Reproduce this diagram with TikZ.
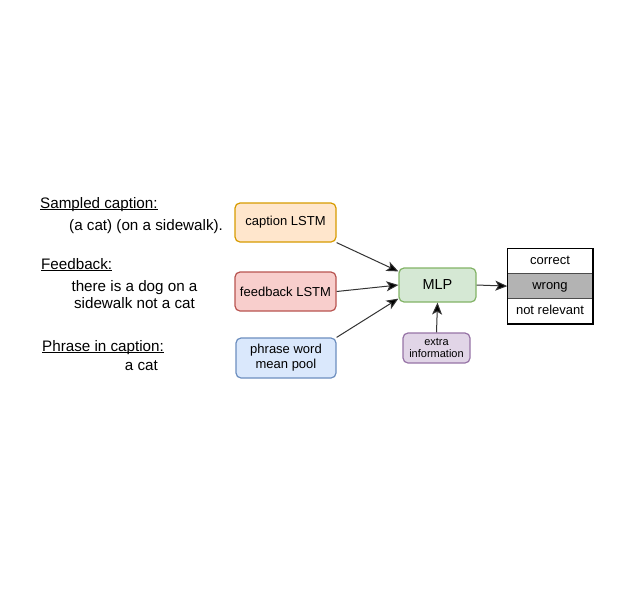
\documentclass[tikz,border=0pt]{standalone}
\usepackage{fontspec}
\setmainfont{Liberation Sans}
\usetikzlibrary{positioning}
\usetikzlibrary{arrows.meta}
\definecolor{capfill}{HTML}{FFE6CC}
\definecolor{capline}{HTML}{D79B00}
\definecolor{fbfill}{HTML}{F8CECC}
\definecolor{fbline}{HTML}{B85450}
\definecolor{phrfill}{HTML}{DAE8FC}
\definecolor{phrline}{HTML}{6C8EBF}
\definecolor{mlpfill}{HTML}{D5E8D4}
\definecolor{mlpline}{HTML}{82B366}
\definecolor{extfill}{HTML}{E1D5E7}
\definecolor{extline}{HTML}{9673A6}
\definecolor{wrongfill}{HTML}{B3B3B3}
\newcommand{\uln}[1]{\setbox0\hbox{#1}\leavevmode\rlap{\raisebox{-2.2pt}{\rule{\wd0}{1.1pt}}}\box0}
\tikzset{box/.style={draw, rounded corners=5pt, line width=1.2pt, inner sep=0pt,
align=center, font=\fontsize{13}{15}\selectfont},
arr/.style={-{Stealth[length=12pt,width=10pt,inset=3pt,fill=black]}, line width=1pt, draw=black!80}}

\begin{document}
\begin{tikzpicture}[x=1pt, y=-1pt,
	lbl/.style={anchor=base west, inner sep=0pt, font=\fontsize{15.2}{17}\selectfont},
	row/.style={minimum width=85pt, minimum height=24.7pt, inner sep=0pt, text height=9.5pt, text depth=2.5pt,
		font=\fontsize{13}{14}\selectfont}]
	\useasboundingbox (0,0) rectangle (630,592);
	% texts on the left
	\node[lbl] (sampled) at (40,208) {\uln{Sampled caption:}};
	\node[lbl] (captxt) at (69,230) {(a cat) (on a sidewalk).};
	\node[lbl] (feedback) at (41,269) {\uln{Feedback:}};
	\node[lbl, anchor=base, align=center] (fbtxt) at (134.5,308) {there is a dog on a\\sidewalk not a cat};
	\node[lbl] (phrase) at (42,351) {\uln{Phrase in caption:}};
	\node[lbl, anchor=base east] (phrtxt) at (158,370) {a cat};
	% boxes
	\node[box, fill=capfill, draw=capline, minimum width=101pt, minimum height=39pt] (cap) at (285.5,222.5) {caption LSTM};
	\node[box, fill=fbfill, draw=fbline, minimum width=101pt, minimum height=39pt] (fb) at (285.5,291.5) {feedback LSTM};
	\node[box, fill=phrfill, draw=phrline, minimum width=100pt, minimum height=40pt] (phr) at (286,358) {phrase word\\mean pool};
	\node[box, fill=mlpfill, draw=mlpline, minimum width=77pt, minimum height=34pt,
		font=\fontsize{14.5}{16}\selectfont] (mlp) at (437.5,285) {MLP};
	\node[box, fill=extfill, draw=extline, minimum width=67pt, minimum height=30pt,
		font=\fontsize{11}{12.5}\selectfont] (ext) at (436.5,348) {extra\\information};
	% output table
	\node[row] (correct) at (550,261) {correct};
	\node[row, below=0pt of correct, fill=wrongfill] (wrong) {wrong};
	\node[row, below=0pt of wrong] (notrel) {not relevant};
	\draw[black!70, line width=0.8pt] (wrong.north west) -- (wrong.north east);
	\draw[black!70, line width=0.8pt] (wrong.south west) -- (wrong.south east);
	\draw[line width=1.6pt] (correct.north west) rectangle (notrel.south east);
	% connectors
	\draw[arr] (cap.south east) -- ([yshift=-4pt]mlp.north west);
	\draw[arr] (fb.east) -- (mlp.west);
	\draw[arr] (phr.north east) -- ([yshift=4pt]mlp.south west);
	\draw[arr] (ext.north) -- (mlp.south);
	\draw[arr] (mlp.east) -- (wrong.west);
\end{tikzpicture}
\end{document}
